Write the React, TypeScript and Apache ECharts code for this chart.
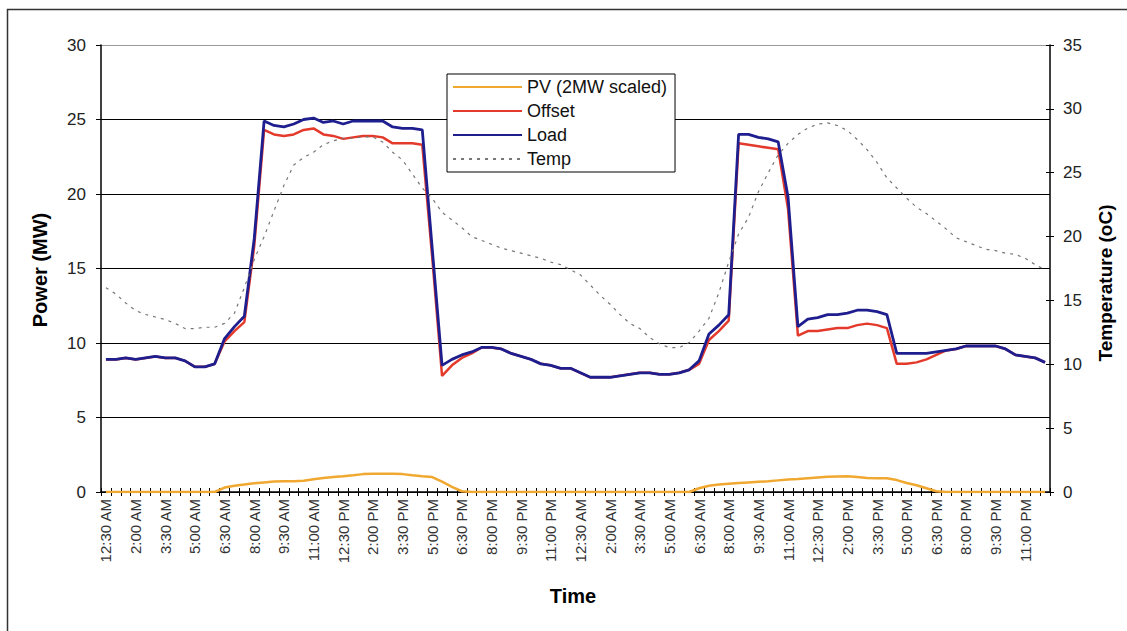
import React, { useEffect, useRef } from "react";
import * as echarts from "echarts";

const dayTimes = [
  "12:30 AM", "1:00 AM", "1:30 AM", "2:00 AM", "2:30 AM", "3:00 AM", "3:30 AM", "4:00 AM",
  "4:30 AM", "5:00 AM", "5:30 AM", "6:00 AM", "6:30 AM", "7:00 AM", "7:30 AM", "8:00 AM",
  "8:30 AM", "9:00 AM", "9:30 AM", "10:00 AM", "10:30 AM", "11:00 AM", "11:30 AM", "12:00 PM",
  "12:30 PM", "1:00 PM", "1:30 PM", "2:00 PM", "2:30 PM", "3:00 PM", "3:30 PM", "4:00 PM",
  "4:30 PM", "5:00 PM", "5:30 PM", "6:00 PM", "6:30 PM", "7:00 PM", "7:30 PM", "8:00 PM",
  "8:30 PM", "9:00 PM", "9:30 PM", "10:00 PM", "10:30 PM", "11:00 PM", "11:30 PM", "12:00 AM",
];
const categories = [...dayTimes, ...dayTimes];

const pvData = [
  0, 0, 0, 0, 0, 0, 0, 0, 0, 0,
  0, 0, 0.3, 0.42, 0.5, 0.58, 0.64, 0.7, 0.72, 0.72,
  0.76, 0.86, 0.94, 1.0, 1.05, 1.12, 1.2, 1.22, 1.22, 1.22,
  1.2, 1.12, 1.05, 1.0, 0.7, 0.35, 0.05, 0, 0, 0,
  0, 0, 0, 0, 0, 0, 0, 0,
  0, 0, 0, 0, 0, 0, 0, 0, 0, 0,
  0, 0, 0.25, 0.42, 0.5, 0.56, 0.6, 0.64, 0.68, 0.72,
  0.78, 0.84, 0.88, 0.93, 0.98, 1.02, 1.04, 1.05, 1.0, 0.94,
  0.92, 0.92, 0.8, 0.6, 0.45, 0.25, 0.05, 0, 0, 0,
  0, 0, 0, 0, 0, 0, 0, 0,
];

const offsetData = [
  8.9, 8.9, 9.0, 8.9, 9.0, 9.1, 9.0, 9.0, 8.8, 8.4,
  8.4, 8.6, 10.1, 10.8, 11.4, 16.5, 24.3, 24.0, 23.9, 24.0,
  24.3, 24.4, 24.0, 23.9, 23.7, 23.8, 23.9, 23.9, 23.8, 23.4,
  23.4, 23.4, 23.3, 15.8, 7.8, 8.5, 9.0, 9.3, 9.7, 9.7,
  9.6, 9.3, 9.1, 8.9, 8.6, 8.5, 8.3, 8.3,
  8.0, 7.7, 7.7, 7.7, 7.8, 7.9, 8.0, 8.0, 7.9, 7.9,
  8.0, 8.2, 8.6, 10.2, 10.8, 11.5, 23.4, 23.3, 23.2, 23.1,
  23.0, 19.0, 10.5, 10.8, 10.8, 10.9, 11.0, 11.0, 11.2, 11.3,
  11.2, 11.0, 8.6, 8.6, 8.7, 8.9, 9.2, 9.5, 9.6, 9.8,
  9.8, 9.8, 9.8, 9.6, 9.2, 9.1, 9.0, 8.7,
];

const loadData = [
  8.9, 8.9, 9.0, 8.9, 9.0, 9.1, 9.0, 9.0, 8.8, 8.4,
  8.4, 8.6, 10.3, 11.1, 11.8, 17.0, 24.9, 24.6, 24.5, 24.7,
  25.0, 25.1, 24.8, 24.9, 24.7, 24.9, 24.9, 24.9, 24.9, 24.5,
  24.4, 24.4, 24.3, 16.4, 8.5, 8.9, 9.2, 9.4, 9.7, 9.7,
  9.6, 9.3, 9.1, 8.9, 8.6, 8.5, 8.3, 8.3,
  8.0, 7.7, 7.7, 7.7, 7.8, 7.9, 8.0, 8.0, 7.9, 7.9,
  8.0, 8.2, 8.8, 10.6, 11.2, 11.9, 24.0, 24.0, 23.8, 23.7,
  23.5, 19.8, 11.1, 11.6, 11.7, 11.9, 11.9, 12.0, 12.2, 12.2,
  12.1, 11.9, 9.3, 9.3, 9.3, 9.3, 9.4, 9.5, 9.6, 9.8,
  9.8, 9.8, 9.8, 9.6, 9.2, 9.1, 9.0, 8.7,
];

const tempData = [
  16.0, 15.5, 14.8, 14.2, 13.9, 13.7, 13.5, 13.2, 12.8, 12.8,
  12.9, 12.9, 13.2, 14.0, 16.0, 18.2, 20.0, 22.0, 24.0, 25.6,
  26.2, 26.6, 27.2, 27.5, 27.7, 27.7, 27.8, 27.8, 27.4, 26.6,
  26.0, 24.9, 23.8, 23.0, 21.9, 21.3, 20.7, 20.0, 19.7, 19.4,
  19.1, 18.9, 18.7, 18.5, 18.3, 18.0, 17.8, 17.4,
  17.0, 16.2, 15.4, 14.7, 13.9, 13.2, 12.8, 12.1, 11.6, 11.3,
  11.3, 11.7, 12.6, 13.6, 15.6, 18.0, 20.2, 21.5, 23.5, 25.0,
  26.4, 27.3, 28.0, 28.5, 28.8, 28.9, 28.7, 28.3, 27.6, 26.8,
  25.8, 24.6, 23.8, 23.0, 22.3, 21.8, 21.2, 20.6, 19.9, 19.6,
  19.3, 19.0, 18.9, 18.7, 18.6, 18.3, 17.8, 17.4,
];

const seriesNames = ["PV (2MW scaled)", "Offset", "Load", "Temp"];
const seriesColors = ["#F0A830", "#E43A2C", "#1E1E8F", "#777777"];

const FONT = "'Liberation Sans', Arial, sans-serif";

export default function App() {
  const ref = useRef<HTMLDivElement>(null);

  useEffect(() => {
    if (!ref.current) return;
    const chart = echarts.init(ref.current, null, { renderer: "svg" });
    chart.setOption({
      animation: false,
      backgroundColor: "#ffffff",
      textStyle: { fontFamily: FONT },
      grid: { left: 101, top: 45, width: 949, height: 447, containLabel: false },
      legend: {
        left: 447,
        top: 74,
        orient: "vertical",
        data: seriesNames,
        itemWidth: 69,
        itemHeight: 14,
        itemGap: 6,
        padding: [4, 8, 4, 5],
        backgroundColor: "#ffffff",
        borderColor: "#000000",
        borderWidth: 1,
        selectedMode: false,
        itemStyle: { opacity: 0 },
        textStyle: { fontSize: 18, color: "#111", lineHeight: 18, fontFamily: FONT },
      },
      xAxis: [
        {
          type: "category",
          data: categories,
          boundaryGap: true,
          position: "bottom",
          axisLine: { show: true, lineStyle: { color: "#000", width: 1.5 } },
          axisTick: { show: true, inside: true, interval: 0, length: 4, lineStyle: { color: "#000", width: 1 } },
          axisLabel: { interval: 2, rotate: 90, margin: 7, fontSize: 15, color: "#333", fontFamily: FONT },
          splitLine: { show: false },
        },
        {
          type: "category",
          data: categories,
          boundaryGap: true,
          position: "bottom",
          axisLine: { show: false },
          axisTick: { show: true, inside: false, interval: 0, length: 4, lineStyle: { color: "#000", width: 1 } },
          axisLabel: { show: false },
          splitLine: { show: false },
        },
      ],
      yAxis: [
        {
          type: "value",
          min: 0,
          max: 30,
          interval: 5,
          position: "left",
          axisLine: { show: true, lineStyle: { color: "#000", width: 1.5 } },
          axisTick: { show: true, length: 5, lineStyle: { color: "#000", width: 1 } },
          axisLabel: { margin: 15, fontSize: 17, color: "#222", fontFamily: FONT },
          splitLine: {
            show: true,
            lineStyle: { color: ["#000", "#000", "#000", "#000", "#000", "#000", "#999"], width: 1 },
          },
        },
        {
          type: "value",
          min: 0,
          max: 35,
          interval: 5,
          position: "right",
          axisLine: { show: true, lineStyle: { color: "#000", width: 1.5 } },
          axisTick: { show: true, length: 4, lineStyle: { color: "#000", width: 1 } },
          axisLabel: { margin: 13, fontSize: 17, color: "#222", fontFamily: FONT },
          splitLine: { show: false },
        },
        {
          type: "value",
          min: 0,
          max: 35,
          interval: 5,
          position: "right",
          axisLine: { show: false },
          axisTick: { show: true, inside: true, length: 4, lineStyle: { color: "#000", width: 1 } },
          axisLabel: { show: false },
          splitLine: { show: false },
        },
      ],
      series: [
        {
          name: seriesNames[0],
          type: "line",
          data: pvData,
          symbol: "none",
          color: seriesColors[0],
          lineStyle: { color: seriesColors[0], width: 2.5 },
        },
        {
          name: seriesNames[1],
          type: "line",
          data: offsetData,
          symbol: "none",
          color: seriesColors[1],
          lineStyle: { color: seriesColors[1], width: 2.5 },
        },
        {
          name: seriesNames[2],
          type: "line",
          data: loadData,
          symbol: "none",
          color: seriesColors[2],
          lineStyle: { color: seriesColors[2], width: 2.8 },
        },
        {
          name: seriesNames[3],
          type: "line",
          yAxisIndex: 1,
          data: tempData,
          symbol: "none",
          color: seriesColors[3],
          lineStyle: { color: seriesColors[3], width: 1.2, type: [3, 5] },
        },
      ],
      graphic: [
        {
          type: "rect",
          silent: true,
          z: -10,
          shape: { x: 7.5, y: 9.5, width: 1140, height: 640 },
          style: { fill: "none", stroke: "#333", lineWidth: 1.5 },
        },
        {
          type: "text",
          x: 40,
          y: 270,
          rotation: Math.PI / 2,
          style: {
            text: "Power (MW)",
            fontSize: 20,
            fontWeight: "bold",
            fontFamily: FONT,
            fill: "#000",
            align: "center",
            verticalAlign: "middle",
          },
        },
        {
          type: "text",
          x: 1105,
          y: 283,
          rotation: Math.PI / 2,
          style: {
            text: "Temperature (oC)",
            fontSize: 19,
            fontWeight: "bold",
            fontFamily: FONT,
            fill: "#000",
            align: "center",
            verticalAlign: "middle",
          },
        },
        {
          type: "text",
          x: 573,
          y: 596,
          style: {
            text: "Time",
            fontSize: 20,
            fontWeight: "bold",
            fontFamily: FONT,
            fill: "#000",
            align: "center",
            verticalAlign: "middle",
          },
        },
      ],
    });
    return () => chart.dispose();
  }, []);

  return (
    <div
      ref={ref}
      style={{ position: "fixed", left: 0, top: 0, width: 1127, height: 631, background: "#fff" }}
    />
  );
}
